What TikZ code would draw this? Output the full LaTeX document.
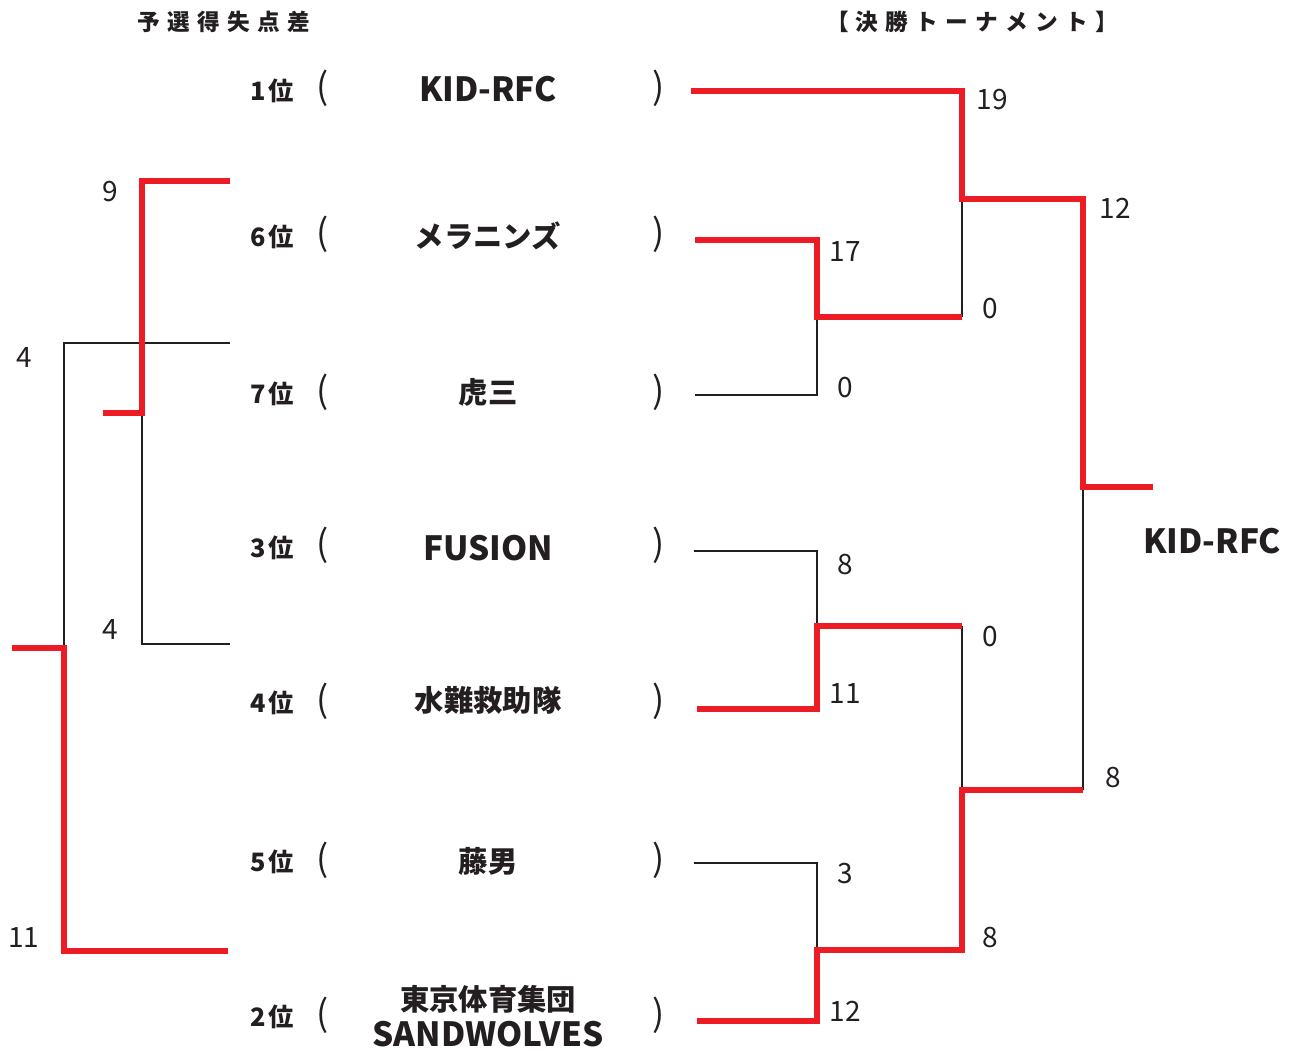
\documentclass[tikz,border=0pt]{standalone}
\usepackage{fontspec}
\setmainfont{Noto Sans CJK JP}
\newfontfamily\numfont{Noto Sans CJK JP}
\definecolor{winred}{RGB}{237,28,36}
\definecolor{inkgray}{RGB}{35,31,32}

\tikzset{
	winline/.style={draw=winred, line width=4.2pt},
	loseline/.style={draw=inkgray, line width=1.4pt},
	heading/.style={inner sep=0, text=inkgray, font=\bfseries\fontsize{17}{17}\selectfont\addfontfeature{LetterSpace=32}},
	ranklabel/.style={inner sep=0, text=inkgray, font=\bfseries\fontsize{19}{19}\selectfont},
	paren/.style={inner sep=0, text=inkgray, font=\fontsize{27}{27}\selectfont},
	teamlat/.style={inner sep=0, text=inkgray, align=center, font=\bfseries\fontsize{25}{25}\selectfont},
	teamjp/.style={inner sep=0, text=inkgray, align=center, font=\bfseries\fontsize{22}{22}\selectfont},
	score/.style={inner sep=0, text=inkgray, font=\numfont\fontsize{21}{21}\selectfont}}
\tikzset{every picture/.style={line width=0.75pt}}

\begin{document}
\begin{tikzpicture}[x=0.75pt,y=0.75pt,yscale=-1,xscale=1]
	\path[use as bounding box] (0,0) rectangle (1294,1050);

	% Headings
	\node[heading] (hdprelim) at (224,22) {予選得失点差};
	\node[heading] (hdfinal) at (972,22) {【決勝トーナメント】};

	% Rank labels
	\node[ranklabel] (rk1) at (272,91) {1\kern2pt位};
	\node[ranklabel] (rk6) at (272,237) {6\kern2pt位};
	\node[ranklabel] (rk7) at (272,394) {7\kern2pt位};
	\node[ranklabel] (rk3) at (272,548) {3\kern2pt位};
	\node[ranklabel] (rk4) at (272,703) {4\kern2pt位};
	\node[ranklabel] (rk5) at (272,862) {5\kern2pt位};
	\node[ranklabel] (rk2) at (272,1017) {2\kern2pt位};

	% Brackets
	\node[paren] (lp1) at (323,88) {(};   \node[paren] (rp1) at (659,88) {)};
	\node[paren] (lp6) at (323,234) {(};  \node[paren] (rp6) at (659,234) {)};
	\node[paren] (lp7) at (323,392) {(};  \node[paren] (rp7) at (659,392) {)};
	\node[paren] (lp3) at (323,545) {(};  \node[paren] (rp3) at (659,545) {)};
	\node[paren] (lp4) at (323,701) {(};  \node[paren] (rp4) at (659,701) {)};
	\node[paren] (lp5) at (323,860) {(};  \node[paren] (rp5) at (659,860) {)};
	\node[paren] (lp2) at (323,1015) {(}; \node[paren] (rp2) at (659,1015) {)};

	% Team names
	\node[teamlat] (tm1) at (488,89) {KID-RFC};
	\node[teamjp] (tm6) at (488,236) {メラニンズ};
	\node[teamjp] (tm7) at (488,392) {虎三};
	\node[teamlat] (tm3) at (488,548) {FUSION};
	\node[teamjp] (tm4) at (488,700) {水難救助隊};
	\node[teamjp] (tm5) at (488,861) {藤男};
	\node[teamjp] (tm2a) at (488,999) {東京体育集団};
	\node[teamlat] (tm2b) at (488,1034) {SANDWOLVES};
	\node[teamlat] (champ) at (1212,541) {KID-RFC};

	% Final tournament: line ends and joints
	\coordinate (e1) at (691,91);
	\coordinate (e6) at (695,240);
	\coordinate (e7) at (695,395);
	\coordinate (e3) at (694,551);
	\coordinate (e4) at (697,709);
	\coordinate (e5) at (694,863);
	\coordinate (e2) at (697,1021);
	\coordinate (m67) at (817,317);
	\coordinate (m34) at (817,626);
	\coordinate (m52) at (817,950);
	\coordinate (s1) at (962,199);
	\coordinate (s2) at (962,790);
	\coordinate (fin) at (1083,487);
	\coordinate (win) at (1153,487);

	% losing lines
	\draw[loseline] (e7) -| (m67);
	\draw[loseline] (e3) -| (m34);
	\draw[loseline] (e5) -| (m52);
	\draw[loseline] (s1) -- (m67 -| s1);
	\draw[loseline] (m34 -| s2) -- (s2);
	\draw[loseline] (s2 -| fin) -- (fin);
	% winning lines
	\draw[winline] (e1) -| (s1) -| (fin) -- (win);
	\draw[winline] (e6) -| (m67) -- (m67 -| s1);
	\draw[winline] (e4) -| (m34) -- (m34 -| s2);
	\draw[winline] (e2) -| (m52) -| (s2) -- (s2 -| fin);

	% Scores
	\node[score] (sc1) at (992,100) {19};
	\node[score] (sc6) at (845,252) {17};
	\node[score] (sc7) at (845,388) {0};
	\node[score] (sc67) at (990,309) {0};
	\node[score] (sca) at (1115,208) {12};
	\node[score] (sc3) at (845,565) {8};
	\node[score] (sc4) at (845,694) {11};
	\node[score] (sc34) at (990,637) {0};
	\node[score] (sc5) at (845,873) {3};
	\node[score] (sc2) at (845,1011) {12};
	\node[score] (sc52) at (990,937) {8};
	\node[score] (scb) at (1113,778) {8};

	% Preliminary goal difference
	\coordinate (a6) at (230,181);
	\coordinate (a7) at (230,343);
	\coordinate (a4) at (230,644);
	\coordinate (a2) at (228,951);
	\coordinate (p1) at (142,413);
	\coordinate (p1e) at (103,413);
	\coordinate (p2) at (64,648);
	\coordinate (p2e) at (12,648);
	\draw[loseline] (a4) -| (p1);
	\draw[loseline] (a7) -| (p2);
	\draw[winline] (a6) -| (p1) -- (p1e);
	\draw[winline] (a2) -| (p2) -- (p2e);

	\node[score] (gd6) at (110,192) {9};
	\node[score] (gd7) at (24,358) {4};
	\node[score] (gd4) at (110,630) {4};
	\node[score] (gd2) at (24,937) {11};

\end{tikzpicture}
\end{document}
